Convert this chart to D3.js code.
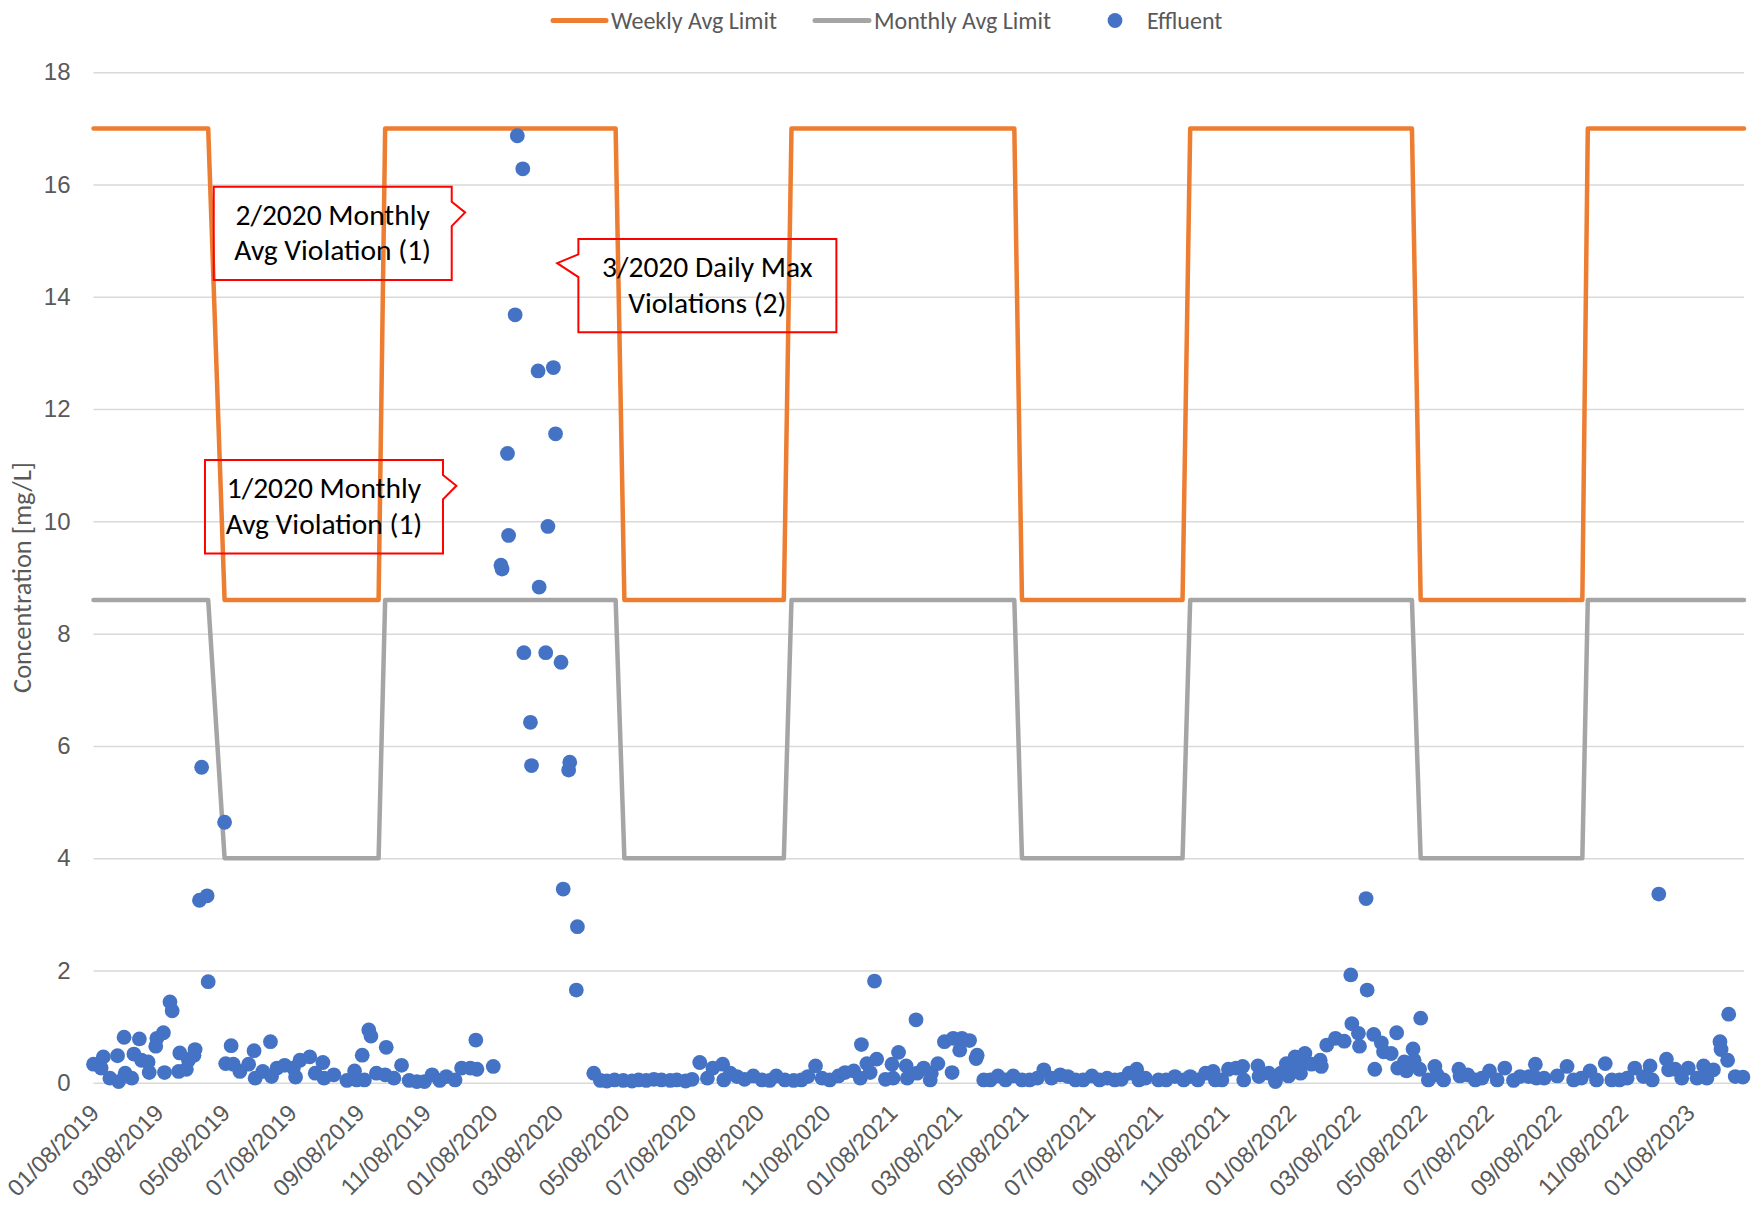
<!DOCTYPE html>
<html>
<head>
<meta charset="utf-8">
<script src="https://cdn.jsdelivr.net/npm/d3@7"></script>
<style>
  html, body { margin: 0; padding: 0; background: #ffffff; }
  svg { display: block; font-family: Carlito, Calibri, Lato, "Open Sans", sans-serif; }
</style>
</head>
<body>
<svg id="chart" width="1760" height="1206"></svg>
<script>
// ---- Data -------------------------------------------------------------

// Effluent concentration samples [date, mg/L]
const effluent2019 = [
  ["2019-01-01",0.33],["2019-01-08",0.26],["2019-01-10",0.46],["2019-01-16",0.08],["2019-01-23",0.48],
  ["2019-01-24",0.02],["2019-01-29",0.81],["2019-01-30",0.17],["2019-02-05",0.08],["2019-02-07",0.51],
  ["2019-02-12",0.78],["2019-02-14",0.40],["2019-02-20",0.37],["2019-02-21",0.18],["2019-02-27",0.65],
  ["2019-02-28",0.79],["2019-03-06",0.89],["2019-03-07",0.18],["2019-03-12",1.44],["2019-03-14",1.28],
  ["2019-03-20",0.20],["2019-03-21",0.53],["2019-03-27",0.24],["2019-03-29",0.40],["2019-04-03",0.49],
  ["2019-04-04",0.59],["2019-04-08",3.25],["2019-04-10",5.62],["2019-04-15",3.33],["2019-04-16",1.80],
  ["2019-05-01",4.64],["2019-05-02",0.34],["2019-05-07",0.66],["2019-05-09",0.33],["2019-05-15",0.20],
  ["2019-05-23",0.33],["2019-05-28",0.57],["2019-05-29",0.08],["2019-06-05",0.20],["2019-06-12",0.73],
  ["2019-06-13",0.11],["2019-06-18",0.26],["2019-06-25",0.31],["2019-07-03",0.26],["2019-07-05",0.10],
  ["2019-07-09",0.40],["2019-07-18",0.46],["2019-07-23",0.17],["2019-07-30",0.36],["2019-07-31",0.08],
  ["2019-08-09",0.14],["2019-08-21",0.04],["2019-08-28",0.21],["2019-08-30",0.05],["2019-09-04",0.49],
  ["2019-09-06",0.05],["2019-09-10",0.94],["2019-09-12",0.83],["2019-09-17",0.17],["2019-09-25",0.14],
  ["2019-09-26",0.63],["2019-10-03",0.08],["2019-10-10",0.31],["2019-10-17",0.04],["2019-10-24",0.02],
  ["2019-10-31",0.02],["2019-11-07",0.14],["2019-11-14",0.04],["2019-11-20",0.11],["2019-11-28",0.05],
  ["2019-12-04",0.26],["2019-12-12",0.26],["2019-12-17",0.76],["2019-12-18",0.24]
];
const effluent2020 = [
  ["2020-01-02",0.29],["2020-01-09",9.22],["2020-01-10",9.15],["2020-01-15",11.21],["2020-01-16",9.75],
  ["2020-01-22",13.68],["2020-01-24",16.87],["2020-01-29",16.28],["2020-01-30",7.66],["2020-02-05",6.42],
  ["2020-02-06",5.65],["2020-02-12",12.68],["2020-02-13",8.83],["2020-02-19",7.66],["2020-02-21",9.91],
  ["2020-02-26",12.74],["2020-02-28",11.56],["2020-03-04",7.49],["2020-03-06",3.45],["2020-03-11",5.57],
  ["2020-03-12",5.71],["2020-03-18",1.65],["2020-03-19",2.78],["2020-04-03",0.17],["2020-04-09",0.04],
  ["2020-04-15",0.03],["2020-04-22",0.05],["2020-04-30",0.04],["2020-05-08",0.03],["2020-05-14",0.05],
  ["2020-05-21",0.04],["2020-05-28",0.06],["2020-06-04",0.05],["2020-06-12",0.04],["2020-06-18",0.05],
  ["2020-06-26",0.03],["2020-07-02",0.06],["2020-07-09",0.36],["2020-07-16",0.08],["2020-07-21",0.26],
  ["2020-07-30",0.33],["2020-07-31",0.05],["2020-08-06",0.17],["2020-08-12",0.11],["2020-08-19",0.06],
  ["2020-08-27",0.12],["2020-09-04",0.05],["2020-09-11",0.04],["2020-09-17",0.12],["2020-09-25",0.05],
  ["2020-10-03",0.04],["2020-10-10",0.05],["2020-10-16",0.11],["2020-10-23",0.30],["2020-10-29",0.08],
  ["2020-11-05",0.05],["2020-11-13",0.12],["2020-11-19",0.18],["2020-11-27",0.21],["2020-12-03",0.08],
  ["2020-12-04",0.68],["2020-12-09",0.34],["2020-12-12",0.18],["2020-12-16",1.81],["2020-12-18",0.42],
  ["2020-12-26",0.06]
];
const effluent2021 = [
  ["2021-01-01",0.33],["2021-01-02",0.08],["2021-01-07",0.54],["2021-01-14",0.30],["2021-01-15",0.08],
  ["2021-01-23",1.12],["2021-01-24",0.17],["2021-01-30",0.26],["2021-02-05",0.05],["2021-02-06",0.17],
  ["2021-02-12",0.34],["2021-02-18",0.73],["2021-02-25",0.18],["2021-02-26",0.79],["2021-03-04",0.58],
  ["2021-03-06",0.79],["2021-03-13",0.75],["2021-03-19",0.43],["2021-03-20",0.49],["2021-03-26",0.05],
  ["2021-04-01",0.05],["2021-04-08",0.12],["2021-04-15",0.05],["2021-04-22",0.12],["2021-04-30",0.05],
  ["2021-05-07",0.05],["2021-05-14",0.08],["2021-05-20",0.23],["2021-05-27",0.08],["2021-06-04",0.14],
  ["2021-06-11",0.11],["2021-06-18",0.05],["2021-06-25",0.05],["2021-07-03",0.12],["2021-07-10",0.05],
  ["2021-07-17",0.08],["2021-07-24",0.05],["2021-07-30",0.06],["2021-08-06",0.17],["2021-08-13",0.24],
  ["2021-08-15",0.05],["2021-08-21",0.08],["2021-09-02",0.05],["2021-09-09",0.05],["2021-09-17",0.11],
  ["2021-09-25",0.05],["2021-10-01",0.11],["2021-10-08",0.05],["2021-10-15",0.17],["2021-10-22",0.20],
  ["2021-10-24",0.05],["2021-10-30",0.05],["2021-11-05",0.24],["2021-11-12",0.26],["2021-11-18",0.29],
  ["2021-11-19",0.05],["2021-12-02",0.30],["2021-12-03",0.11],["2021-12-12",0.17],["2021-12-18",0.02],
  ["2021-12-23",0.17],["2021-12-28",0.34],["2021-12-30",0.12]
];
const effluent2022 = [
  ["2022-01-03",0.24],["2022-01-05",0.46],["2022-01-10",0.17],["2022-01-11",0.34],["2022-01-14",0.52],
  ["2022-01-20",0.33],["2022-01-28",0.40],["2022-01-29",0.29],["2022-02-03",0.67],["2022-02-11",0.79],
  ["2022-02-19",0.74],["2022-02-25",1.92],["2022-02-26",1.05],["2022-03-04",0.88],["2022-03-05",0.65],
  ["2022-03-11",3.28],["2022-03-12",1.65],["2022-03-18",0.86],["2022-03-19",0.24],["2022-03-25",0.71],
  ["2022-03-27",0.55],["2022-04-03",0.52],["2022-04-08",0.89],["2022-04-09",0.26],["2022-04-15",0.37],
  ["2022-04-17",0.21],["2022-04-23",0.60],["2022-04-24",0.40],["2022-04-29",0.24],["2022-04-30",1.15],
  ["2022-05-07",0.05],["2022-05-13",0.29],["2022-05-15",0.14],["2022-05-21",0.05],["2022-06-04",0.24],
  ["2022-06-05",0.12],["2022-06-12",0.14],["2022-06-19",0.05],["2022-06-25",0.08],["2022-07-02",0.21],
  ["2022-07-09",0.05],["2022-07-16",0.26],["2022-07-24",0.04],["2022-07-30",0.11],["2022-08-07",0.11],
  ["2022-08-13",0.33],["2022-08-14",0.08],["2022-08-21",0.08],["2022-09-02",0.12],["2022-09-11",0.29],
  ["2022-09-17",0.05],["2022-09-24",0.08],["2022-10-02",0.21],["2022-10-08",0.05],["2022-10-16",0.34],
  ["2022-10-22",0.05],["2022-10-29",0.05],["2022-11-05",0.08],["2022-11-12",0.26],["2022-11-20",0.11],
  ["2022-11-26",0.30],["2022-11-28",0.05],["2022-12-04",3.36],["2022-12-11",0.42],["2022-12-13",0.23],
  ["2022-12-19",0.24],["2022-12-25",0.08],["2022-12-31",0.26]
];
const effluent2023 = [
  ["2023-01-08",0.08],["2023-01-14",0.30],["2023-01-17",0.08],["2023-01-23",0.23],["2023-01-29",0.73],
  ["2023-01-30",0.59],["2023-02-05",0.40],["2023-02-06",1.22],["2023-02-12",0.11],["2023-02-19",0.10]
];

// Seasonal permit limits (winter / summer), plotted at the sample dates where they switch
const limitDates = [
  "2019-01-01","2019-04-16","2019-05-01","2019-09-19","2019-09-25",
  "2020-04-23","2020-05-01","2020-09-24","2020-10-01",
  "2021-04-23","2021-04-30","2021-09-24","2021-10-01",
  "2022-04-22","2022-04-30","2022-09-25","2022-09-30","2023-02-20"
];
const weeklyAvgLimit  = [17,17,8.6,8.6,17,17,8.6,8.6,17,17,8.6,8.6,17,17,8.6,8.6,17,17];
const monthlyAvgLimit = [8.6,8.6,4,4,8.6,8.6,4,4,8.6,8.6,4,4,8.6,8.6,4,4,8.6,8.6];

// Axes
const xDomain = ["2019-01-01", "2023-02-20"];
const xTickDates = [
  "2019-01-08","2019-03-08","2019-05-08","2019-07-08","2019-09-08","2019-11-08",
  "2020-01-08","2020-03-08","2020-05-08","2020-07-08","2020-09-08","2020-11-08",
  "2021-01-08","2021-03-08","2021-05-08","2021-07-08","2021-09-08","2021-11-08",
  "2022-01-08","2022-03-08","2022-05-08","2022-07-08","2022-09-08","2022-11-08",
  "2023-01-08"
];
const yTicks = [0, 2, 4, 6, 8, 10, 12, 14, 16, 18];
const yTitle = "Concentration [mg/L]";

// Violation callouts: box centre in data space
const callouts = [
  { lines: ["2/2020 Monthly", "Avg Violation (1)"], date: "2019-08-08", value: 15.13, w: 238, side: "right" },
  { lines: ["1/2020 Monthly", "Avg Violation (1)"], date: "2019-07-31", value: 10.26, w: 238, side: "right" },
  { lines: ["3/2020 Daily Max", "Violations (2)"],  date: "2020-07-16", value: 14.20, w: 258, side: "left" }
];

// ---- Chart ------------------------------------------------------------

const parse = d3.utcParse("%Y-%m-%d");
const fmt = d3.utcFormat("%m/%d/%Y");

const margin = { left: 93.5, right: 1744, top: 72.3, bottom: 1082.7 };
const COLORS = { weekly: "#ED7D31", monthly: "#A5A5A5", effluent: "#4472C4", grid: "#D9D9D9", text: "#595959" };

const svg = d3.select("#chart");

const x = d3.scaleUtc().domain(xDomain.map(parse)).range([margin.left, margin.right]);
const y = d3.scaleLinear().domain([0, 18]).range([margin.bottom, margin.top]);

// gridlines
svg.append("g")
  .attr("transform", `translate(${margin.left},0)`)
  .call(d3.axisLeft(y).tickValues(yTicks).tickSize(-(margin.right - margin.left)).tickFormat(""))
  .call(g => g.select(".domain").remove())
  .call(g => g.selectAll("line").attr("stroke", COLORS.grid).attr("stroke-width", 1.5));

// y tick labels
svg.append("g")
  .attr("transform", `translate(${margin.left},0)`)
  .call(d3.axisLeft(y).tickValues(yTicks).tickSize(0).tickPadding(23))
  .call(g => g.select(".domain").remove())
  .call(g => g.selectAll("text")
    .attr("font-size", 24)
    .attr("fill", COLORS.text));

// x tick labels, rotated
svg.append("g")
  .attr("transform", `translate(0,${margin.bottom})`)
  .call(d3.axisBottom(x).tickValues(xTickDates.map(parse)).tickSize(0).tickFormat(fmt))
  .call(g => g.select(".domain").remove())
  .call(g => g.selectAll("text")
    .attr("font-size", 23.5)
    .attr("fill", COLORS.text)
    .attr("text-anchor", "end")
    .attr("x", 0).attr("y", 0).attr("dy", "0.35em")
    .attr("transform", "translate(-7,26) rotate(-45)"));

// y-axis title
svg.append("text")
  .attr("transform", `translate(31,${(margin.top + margin.bottom) / 2}) rotate(-90)`)
  .attr("text-anchor", "middle")
  .attr("font-size", 26.5)
  .attr("fill", COLORS.text)
  .text(yTitle);

// limit step lines
const limits = limitDates.map((d, i) => ({ date: parse(d), weekly: weeklyAvgLimit[i], monthly: monthlyAvgLimit[i] }));

const lineGen = key => d3.line().x(d => x(d.date)).y(d => y(d[key]));

svg.append("path")
  .datum(limits)
  .attr("fill", "none")
  .attr("stroke", COLORS.weekly)
  .attr("stroke-width", 4.5)
  .attr("stroke-linejoin", "round")
  .attr("stroke-linecap", "round")
  .attr("d", lineGen("weekly"));

svg.append("path")
  .datum(limits)
  .attr("fill", "none")
  .attr("stroke", COLORS.monthly)
  .attr("stroke-width", 4.5)
  .attr("stroke-linejoin", "round")
  .attr("stroke-linecap", "round")
  .attr("d", lineGen("monthly"));

// effluent samples
const samples = [...effluent2019, ...effluent2020, ...effluent2021, ...effluent2022, ...effluent2023]
  .map(([d, v]) => ({ date: parse(d), value: v }));

svg.append("g")
  .selectAll("circle")
  .data(samples)
  .join("circle")
  .attr("cx", d => x(d.date))
  .attr("cy", d => y(d.value))
  .attr("r", 7.4)
  .attr("fill", COLORS.effluent);

// legend
const legend = svg.append("g").attr("font-size", 24).attr("fill", COLORS.text);
const legendY = 20.5;
[
  { label: "Weekly Avg Limit",  color: COLORS.weekly,  x0: 553, x1: 606, tx: 611 },
  { label: "Monthly Avg Limit", color: COLORS.monthly, x0: 815, x1: 869, tx: 874 }
].forEach(item => {
  legend.append("line")
    .attr("x1", item.x0).attr("x2", item.x1)
    .attr("y1", legendY).attr("y2", legendY)
    .attr("stroke", item.color).attr("stroke-width", 5).attr("stroke-linecap", "round");
  legend.append("text").attr("x", item.tx).attr("y", legendY).attr("dy", "0.35em").text(item.label);
});
legend.append("circle").attr("cx", 1115).attr("cy", legendY).attr("r", 7.4).attr("fill", COLORS.effluent);
legend.append("text").attr("x", 1147).attr("y", legendY).attr("dy", "0.35em").text("Effluent");

// callouts
const boxH = 93.3;
callouts.forEach(c => {
  const cx = x(parse(c.date));
  const cy = y(c.value);
  const l = cx - c.w / 2, r = cx + c.w / 2, t = cy - boxH / 2, b = cy + boxH / 2;
  const p = d3.path();
  if (c.side === "right") {
    p.moveTo(l, t); p.lineTo(r, t); p.lineTo(r, t + 15); p.lineTo(r + 13.4, t + 25.6);
    p.lineTo(r, t + 39.3); p.lineTo(r, b); p.lineTo(l, b); p.closePath();
  } else {
    p.moveTo(l, t); p.lineTo(r, t); p.lineTo(r, b); p.lineTo(l, b); p.lineTo(l, t + 38.2);
    p.lineTo(l - 21.2, t + 24.2); p.lineTo(l, t + 15.4); p.closePath();
  }
  const g = svg.append("g");
  g.append("path").attr("d", p.toString()).attr("fill", "none").attr("stroke", "#FF0000").attr("stroke-width", 2);
  const txt = g.append("text").attr("text-anchor", "middle").attr("font-size", 29.5).attr("fill", "#000000");
  txt.append("tspan").attr("x", cx).attr("y", cy - 8.5).text(c.lines[0]);
  txt.append("tspan").attr("x", cx).attr("y", cy + 27).text(c.lines[1]);
});
</script>
</body>
</html>
